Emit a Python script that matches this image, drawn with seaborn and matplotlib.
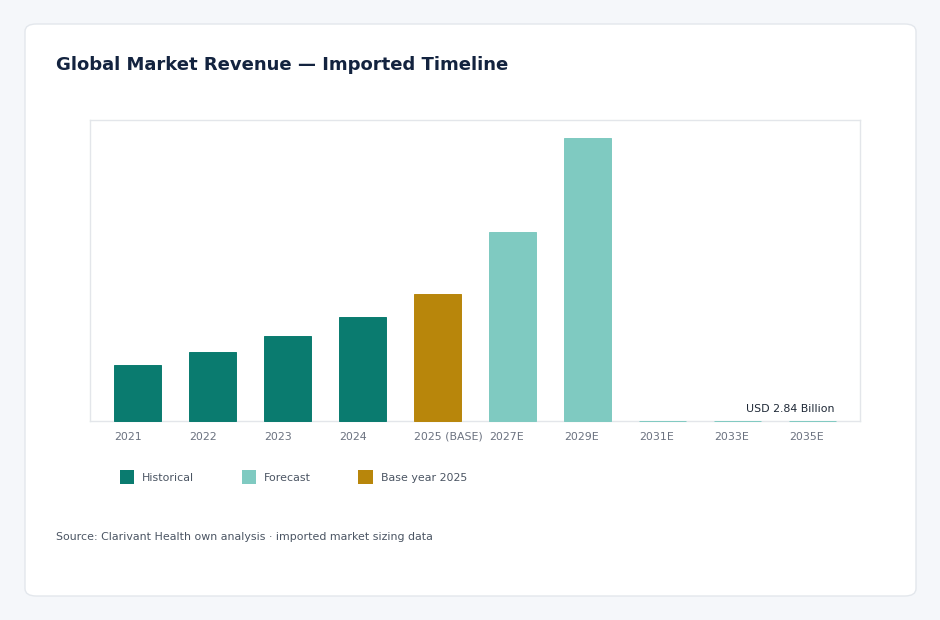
import pandas as pd
import matplotlib.pyplot as plt
import seaborn as sns
from matplotlib.patches import Patch, FancyBboxPatch

years = ['2021', '2022', '2023', '2024', '2025 (BASE)', '2027E', '2029E', '2031E', '2033E', '2035E']
revenue = [565, 690, 850, 1040, 1270, 1890, 2830, 2.2, 2.5, 2.84]
kind = ['Historical'] * 4 + ['Base year 2025'] + ['Forecast'] * 5
legend_labels = ['Historical', 'Forecast', 'Base year 2025']
colors = {'Historical': '#0a7b6f', 'Forecast': '#7fcac1', 'Base year 2025': '#b8860b'}

df = pd.DataFrame({'year': years, 'revenue': revenue, 'kind': kind})

sns.set_style('white')
plt.rcParams['font.family'] = ['DejaVu Sans']

fig = plt.figure(figsize=(9.4, 6.2), dpi=100, facecolor='#f5f7fa')
card = FancyBboxPatch((25 / 940, 24 / 620), 891 / 940, 572 / 620,
                      boxstyle='round,pad=0,rounding_size=0.012',
                      transform=fig.transFigure, facecolor='white',
                      edgecolor='#e3e7ec', linewidth=1, zorder=-5)
fig.patches.append(card)

ax = fig.add_axes([90 / 940, 199 / 620, 770 / 940, 301 / 620])
bw = 0.615
sns.barplot(data=df, x='year', y='revenue', hue='kind', palette=colors,
            order=years, dodge=False, width=bw, legend=False, ax=ax, saturation=1)
# thin outline in the bar colour so the near-zero forecast bars still show
for bar in ax.patches:
    bar.set_edgecolor(bar.get_facecolor())
    bar.set_linewidth(0.7)
    bar.set_zorder(3)
    bar.set_clip_on(False)

ax.set_xlim(-0.633, 9.633)
ax.set_ylim(0, max(revenue) * 1.064)
ax.set_xlabel('')
ax.set_ylabel('')
ax.set_yticks([])
ax.set_xticks([i - 0.313 for i in range(len(years))])
ax.set_xticklabels(years, ha='left', va='baseline', fontsize=7.9, color='#6b7280')
ax.tick_params(axis='x', length=0, pad=13.5)
for s in ax.spines.values():
    s.set_color('#e3e6ea')
    s.set_linewidth(1)
    s.set_zorder(1)
ax.set_facecolor('white')

ax.annotate('USD 2.84 Billion', xy=(9 + 0.313, revenue[-1]), xytext=(-1, 5),
            textcoords='offset points', ha='right', va='bottom',
            fontsize=7.9, color='#1f2937')

handles = [Patch(facecolor=colors[k], edgecolor='none') for k in legend_labels]
fig.legend(handles, legend_labels, loc='center left', bbox_to_anchor=(110 / 940, 1 - 477 / 620),
           ncol=3, frameon=False, fontsize=7.9, labelcolor='#4b5563',
           handlelength=1.3, handleheight=1.6, handletextpad=0.75, columnspacing=4.3)

fig.text(56 / 940, 1 - 65 / 620, 'Global Market Revenue — Imported Timeline',
         fontsize=13, fontweight='bold', color='#13233f', va='center', ha='left')
fig.text(56 / 940, 1 - 537 / 620, 'Source: Clarivant Health own analysis · imported market sizing data',
         fontsize=7.9, color='#4b5563', va='center', ha='left')

fig.savefig('out.png', dpi=100, facecolor=fig.get_facecolor())
